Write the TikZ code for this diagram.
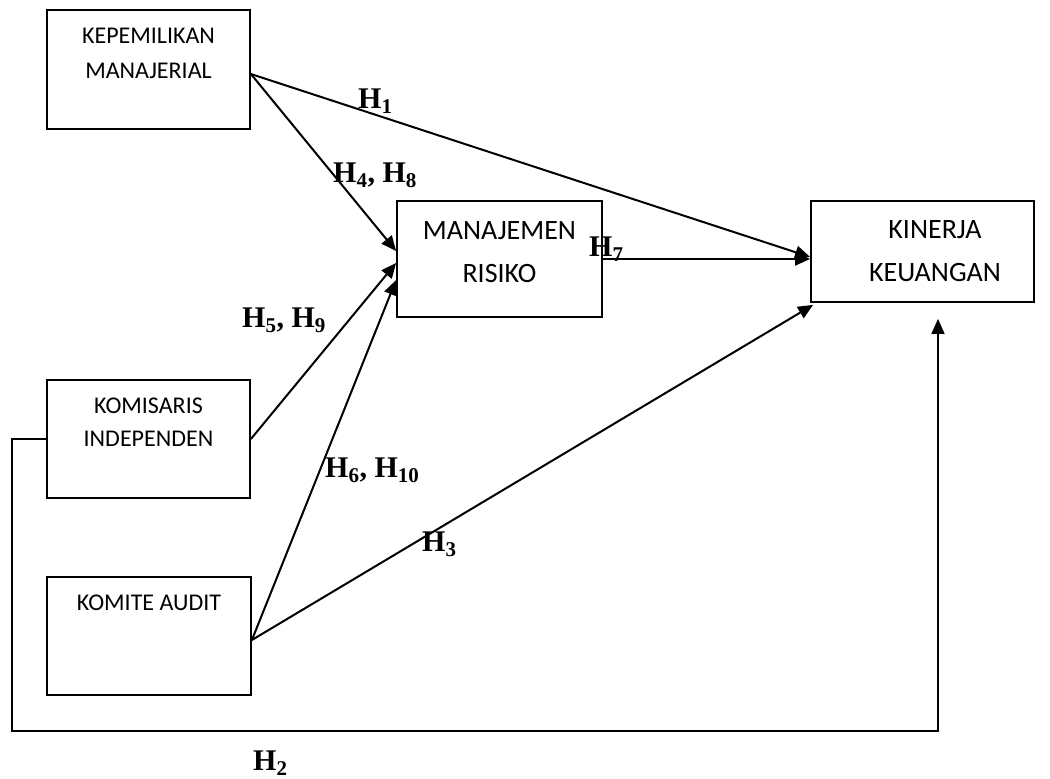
\documentclass[tikz,border=0pt]{standalone}
\usepackage{fontspec}
\newfontfamily\boxfont{Carlito}
\newfontfamily\hypfont{Liberation Serif}
\usetikzlibrary{arrows.meta,positioning}

\begin{document}
\begin{tikzpicture}[x=1pt,y=-1pt,
  box/.style={draw,rectangle,line width=1.8pt,inner sep=0pt},
  boxtext/.style={inner sep=0pt,align=center,font=\boxfont\fontsize{24}{35}\selectfont},
  bigtext/.style={boxtext,font=\boxfont\fontsize{28}{43}\selectfont},
  hyp/.style={anchor=base west,inner sep=0pt,font=\hypfont\bfseries\fontsize{30}{30}\selectfont},
  link/.style={line width=2pt,-{Triangle[length=15pt,width=13pt]}}]
\useasboundingbox (0,0) rectangle (1050,779);

% variabel independen
\node[box,minimum width=203pt,minimum height=119pt] (km) at (148.5,69.5) {};
\node[boxtext,below=19pt of km.north] (kmtext) {KEPEMILIKAN\\MANAJERIAL};

\node[box,minimum width=203pt,minimum height=118pt] (ki) at (148.5,439) {};
\node[boxtext,below=19pt of ki.north,font=\boxfont\fontsize{24}{33}\selectfont] (kitext) {KOMISARIS\\INDEPENDEN};

\node[box,minimum width=204pt,minimum height=118pt] (ka) at (149,636) {};
\node[boxtext,below=19pt of ka.north] (katext) {KOMITE AUDIT};

% intervening dan dependen
\node[box,minimum width=205pt,minimum height=116pt] (mr) at (499.5,259) {};
\node[bigtext,below=21pt of mr.north] (mrtext) {MANAJEMEN\\RISIKO};

\node[box,minimum width=223pt,minimum height=101pt] (kk) at (922.5,251.5) {};
\node[bigtext,below=20pt of kk.north,xshift=12.5pt] (kktext) {KINERJA\\KEUANGAN};

% hubungan
\draw[link] ([yshift=-4.5pt]km.east) -- ([yshift=-5.5pt]kk.west);
\draw[link] ([yshift=-4.5pt]km.east) -- ([yshift=8pt]mr.west);
\draw[link] (ki.east) -- ([yshift=-4pt]mr.west);
\draw[link] ([yshift=-4pt]ka.east) -- ([yshift=-21pt]mr.west);
\draw[link] ([yshift=-4pt]ka.east) -- ([xshift=3pt,yshift=-2pt]kk.south west);
\draw[link] (mr.east) -- (mr.east -| kk.west);
\coordinate (h2corner) at (12,731);
\draw[link,line width=1.6pt] (ki.west) -| (h2corner) -| ([xshift=15.5pt,yshift=-16pt]kk.south);

% label hipotesis
\node[hyp] (h1) at (358,108) {H\textsubscript{1}};
\node[hyp] (h48) at (333,182) {H\textsubscript{4}, H\textsubscript{8}};
\node[hyp] (h7) at (589,256) {H\textsubscript{7}};
\node[hyp] (h59) at (242,327) {H\textsubscript{5}, H\textsubscript{9}};
\node[hyp] (h610) at (325,477) {H\textsubscript{6}, H\textsubscript{10}};
\node[hyp] (h3) at (422,551) {H\textsubscript{3}};
\node[hyp] (h2) at (253,770) {H\textsubscript{2}};
\end{tikzpicture}
\end{document}
